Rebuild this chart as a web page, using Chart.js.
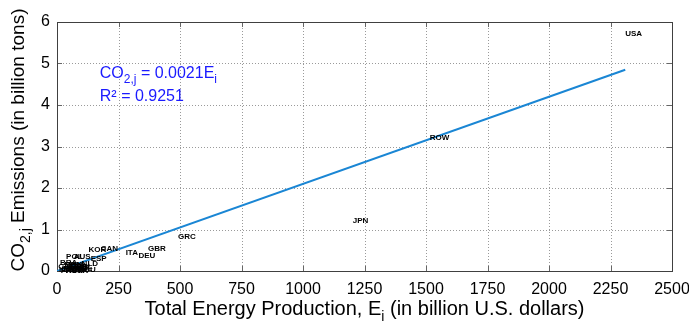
<!DOCTYPE html>
<html>
<head>
<meta charset="utf-8">
<script src="https://cdn.jsdelivr.net/npm/chart.js@4/dist/chart.umd.min.js"></script>
<style>
  html, body { margin: 0; padding: 0; background: #ffffff; }
  #wrap { width: 689px; height: 331px; }
</style>
</head>
<body>
<div id="wrap"><canvas id="c" width="689" height="331"></canvas></div>
<script>
// Country codes, total energy production (billion US$) and CO2 emissions (billion tons)
const countries = ['USA','ROW','JPN','GRC','GBR','DEU','ITA','CAN','KOR','ESP','NLD','AUS','POL',
  'BRA','MEX','IND','RUS','TWN','IDN','TUR','AUT','BEL','SWE','DNK','FIN','IRL','PRT','CZE','HUN','SVK','ROU','FRA'];
const energy = [2310, 1515, 1202, 492, 370, 331, 279, 178, 128, 137, 100, 68, 37,
  12, 30, 45, 55, 20, 8, 40, 65, 80, 50, 25, 70, 90, 15, 5, 35, 60, 85, 48];
const emissions = [5.71, 3.22, 1.20, 0.83, 0.53, 0.37, 0.45, 0.54, 0.50, 0.29, 0.17, 0.34, 0.34,
  0.19, 0.15, 0.12, 0.10, 0.06, 0.04, 0.05, 0.08, 0.10, 0.03, 0.02, 0.03, 0.06, 0.01, 0.09, 0.01, 0.00, 0.02, 0.14];

// Linear fit through the origin
const fitSlope = 0.0021;
const fitRSquared = 0.9251;
const fitRange = [0, 2310];

// Axis ticks
const xTicks = [0, 250, 500, 750, 1000, 1250, 1500, 1750, 2000, 2250, 2500];
const yTicks = [0, 1, 2, 3, 4, 5, 6];

// Where the fit equation is written (data units)
const eqPos = { x: 174, y1: 4.65, y2: 4.10 };

const FONT = '"Liberation Sans", Arial, Helvetica, sans-serif';

function drawRich(ctx, parts, x, y, size, color, align) {
  const subSize = Math.round(size * 0.72);
  let total = 0;
  parts.forEach(p => {
    ctx.font = (p.sub ? subSize : size) + 'px ' + FONT;
    total += ctx.measureText(p.t).width;
  });
  let cx = align === 'center' ? x - total / 2 : x;
  ctx.fillStyle = color;
  ctx.textBaseline = 'alphabetic';
  ctx.textAlign = 'left';
  parts.forEach(p => {
    ctx.font = (p.sub ? subSize : size) + 'px ' + FONT;
    ctx.fillText(p.t, cx, y + (p.sub ? size * 0.3 : 0));
    cx += ctx.measureText(p.t).width;
  });
}

const framePlugin = {
  id: 'frame',
  beforeDatasetsDraw(chart) {
    const { ctx, chartArea: a, scales: { x, y } } = chart;
    ctx.save();
    // dotted grid
    ctx.strokeStyle = '#9a9a9a';
    ctx.lineWidth = 1;
    ctx.setLineDash([1, 2]);
    xTicks.forEach(v => {
      const px = Math.round(x.getPixelForValue(v)) + 0.5;
      if (v === xTicks[0] || v === xTicks[xTicks.length - 1]) return;
      ctx.beginPath(); ctx.moveTo(px, a.top); ctx.lineTo(px, a.bottom); ctx.stroke();
    });
    yTicks.forEach(v => {
      const py = Math.round(y.getPixelForValue(v)) + 0.5;
      if (v === yTicks[0] || v === yTicks[yTicks.length - 1]) return;
      ctx.beginPath(); ctx.moveTo(a.left, py); ctx.lineTo(a.right, py); ctx.stroke();
    });
    ctx.setLineDash([]);
    // inward tick marks on all four sides
    ctx.strokeStyle = '#666666';
    const tl = 5;
    xTicks.forEach(v => {
      const px = Math.round(x.getPixelForValue(v)) + 0.5;
      ctx.beginPath();
      ctx.moveTo(px, a.bottom); ctx.lineTo(px, a.bottom - tl);
      ctx.moveTo(px, a.top); ctx.lineTo(px, a.top + tl);
      ctx.stroke();
    });
    yTicks.forEach(v => {
      const py = Math.round(y.getPixelForValue(v)) + 0.5;
      ctx.beginPath();
      ctx.moveTo(a.left, py); ctx.lineTo(a.left + tl, py);
      ctx.moveTo(a.right, py); ctx.lineTo(a.right - tl, py);
      ctx.stroke();
    });
    // box
    ctx.strokeStyle = '#404040';
    ctx.strokeRect(Math.round(a.left) + 0.5, Math.round(a.top) + 0.5,
      Math.round(a.right - a.left), Math.round(a.bottom - a.top));
    ctx.restore();
  },
  afterDatasetsDraw(chart) {
    const { ctx, chartArea: a, scales: { x, y } } = chart;
    ctx.save();
    // country labels beside each point
    const meta = chart.getDatasetMeta(1);
    ctx.font = 'bold 8px ' + FONT;
    ctx.fillStyle = '#000000';
    ctx.textAlign = 'left';
    ctx.textBaseline = 'middle';
    meta.data.forEach((pt, i) => {
      ctx.fillText(countries[i], pt.x, pt.y);
    });
    // fit equation
    const ex = x.getPixelForValue(eqPos.x);
    drawRich(ctx, [{ t: 'CO' }, { t: '2,j', sub: true }, { t: ' = ' + fitSlope.toFixed(4) + 'E' }, { t: 'i', sub: true }],
      ex, y.getPixelForValue(eqPos.y1), 16, '#1a1aff', 'left');
    drawRich(ctx, [{ t: 'R\u00B2 = ' + fitRSquared.toFixed(4) }],
      ex, y.getPixelForValue(eqPos.y2), 16, '#1a1aff', 'left');
    // axis titles
    drawRich(ctx, [{ t: 'Total Energy Production, E' }, { t: 'i', sub: true }, { t: ' (in billion U.S. dollars)' }],
      (a.left + a.right) / 2, 315, 20, '#000000', 'center');
    ctx.translate(24, 140);
    ctx.rotate(-Math.PI / 2);
    drawRich(ctx, [{ t: 'CO' }, { t: '2,j', sub: true }, { t: ' Emissions (in billion tons)' }],
      0, 0, 19, '#000000', 'center');
    ctx.restore();
  }
};

new Chart(document.getElementById('c'), {
  type: 'scatter',
  data: {
    datasets: [
      {
        label: 'fit',
        type: 'line',
        data: fitRange.map(v => ({ x: v, y: fitSlope * v })),
        borderColor: '#1a86d4',
        borderWidth: 2,
        pointRadius: 0,
        fill: false
      },
      {
        label: 'countries',
        data: energy.map((e, i) => ({ x: e, y: emissions[i] })),
        pointRadius: 0,
        pointHoverRadius: 0
      }
    ]
  },
  options: {
    responsive: false,
    animation: false,
    events: [],
    layout: { padding: { top: 22, right: 17, left: 0, bottom: 0 } },
    plugins: { legend: { display: false }, tooltip: { enabled: false } },
    scales: {
      x: {
        type: 'linear',
        min: 0, max: 2500,
        afterBuildTicks(s) { s.ticks = xTicks.map(v => ({ value: v })); },
        afterFit(s) { s.height = 60; s.paddingLeft = 0; s.paddingRight = 0; },
        grid: { display: false, drawTicks: false },
        border: { display: false },
        ticks: { color: '#000000', font: { family: FONT, size: 16 }, padding: 9, maxRotation: 0, autoSkip: false,
          callback: v => String(v) }
      },
      y: {
        type: 'linear',
        min: 0, max: 6,
        afterBuildTicks(s) { s.ticks = yTicks.map(v => ({ value: v })); },
        afterFit(s) { s.width = 57; s.paddingTop = 0; s.paddingBottom = 0; },
        grid: { display: false, drawTicks: false },
        border: { display: false },
        ticks: { color: '#000000', font: { family: FONT, size: 16 }, padding: 7, callback: v => String(v) }
      }
    }
  },
  plugins: [framePlugin]
});
</script>
</body>
</html>
